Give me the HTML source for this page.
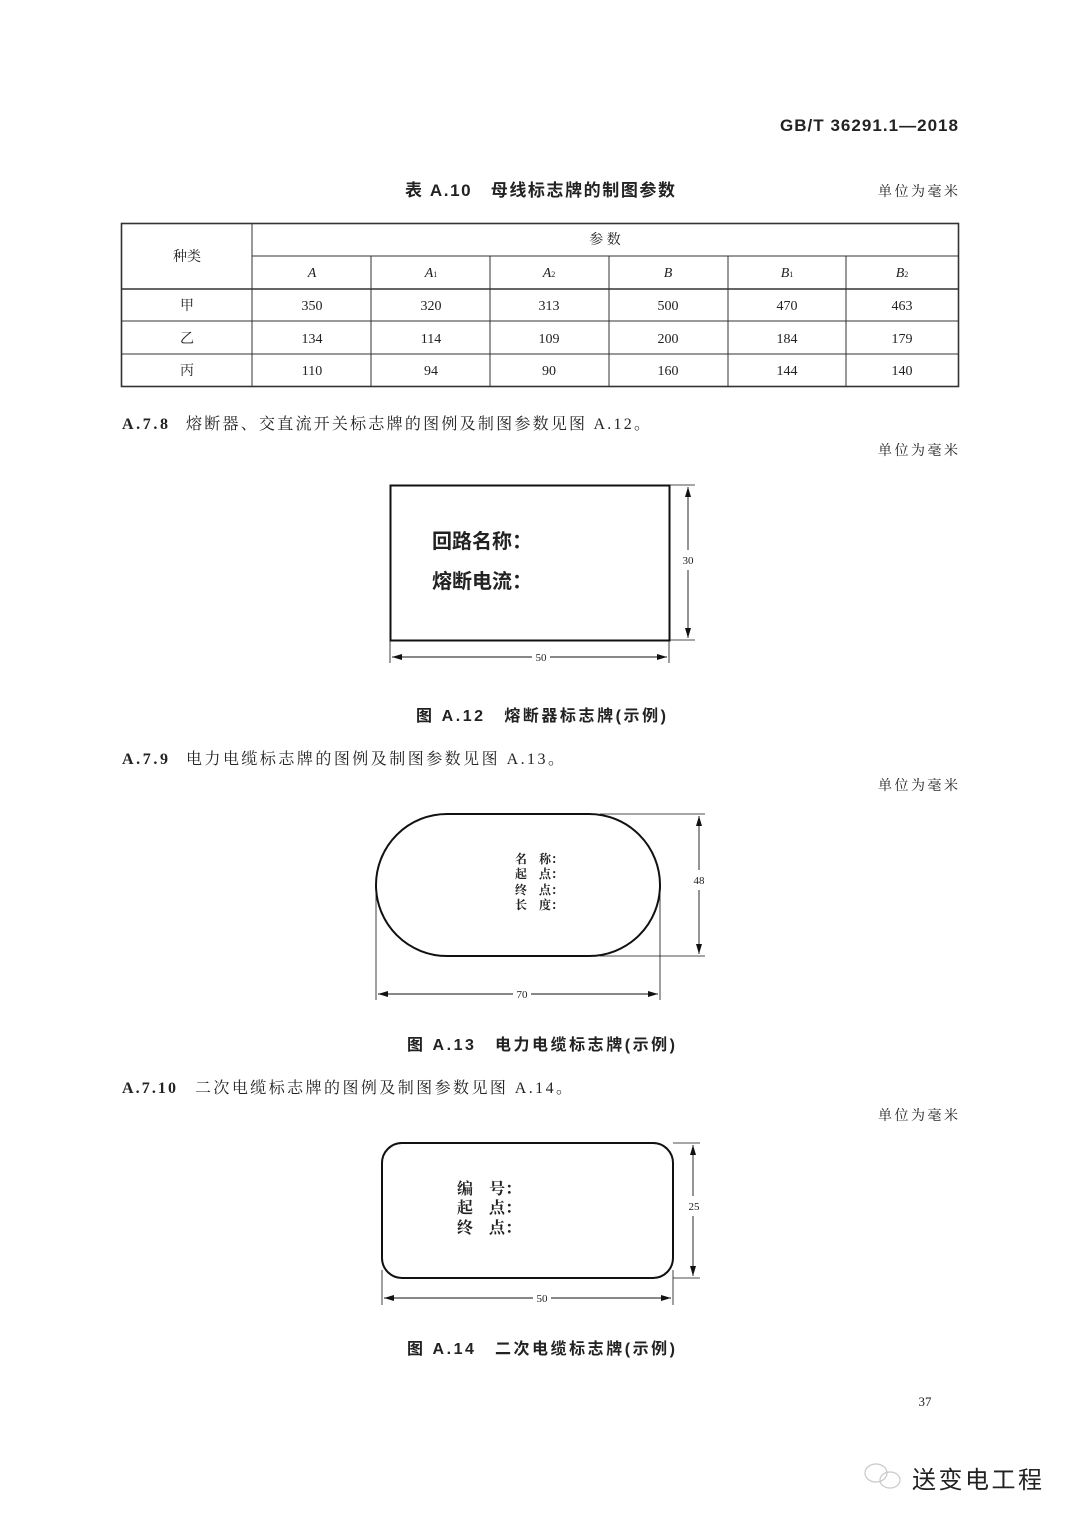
<!DOCTYPE html>
<html><head><meta charset="utf-8"><style>
html,body{margin:0;padding:0;background:#fff;}
svg{display:block;}
text{font-family:"Liberation Serif","Noto Serif CJK SC",serif;fill:#222;}
.s{font-family:"Liberation Sans","Noto Sans CJK SC",sans-serif;}
.b{font-weight:bold;}
</style></head><body>
<svg width="1080" height="1526" viewBox="0 0 1080 1526" xmlns="http://www.w3.org/2000/svg">
<defs>
<marker id="ar" markerWidth="10" markerHeight="6" refX="10" refY="3" orient="auto-start-reverse" markerUnits="userSpaceOnUse"><path d="M0,0 L10,3 L0,6 z" fill="#111"/></marker>
</defs>
<text x="958" y="131" font-size="17" text-anchor="end" class="s b" textLength="178" lengthAdjust="spacing">GB/T 36291.1—2018</text>

<text x="405" y="196" font-size="17" class="s b" textLength="270" lengthAdjust="spacing">表 A.10　母线标志牌的制图参数</text>
<text x="958" y="196" font-size="14" text-anchor="end" textLength="80" lengthAdjust="spacing">单位为毫米</text>

<g stroke="#333" fill="none">
<rect x="121.5" y="223.5" width="837" height="163" stroke-width="1.6"/>
<line x1="252" y1="223" x2="252" y2="387"/>
<line x1="252" y1="256" x2="959" y2="256"/>
<line x1="121" y1="289" x2="959" y2="289" stroke-width="1.4"/>
<line x1="121" y1="321" x2="959" y2="321"/>
<line x1="121" y1="354" x2="959" y2="354"/>
<line x1="371" y1="256" x2="371" y2="387"/>
<line x1="490" y1="256" x2="490" y2="387"/>
<line x1="609" y1="256" x2="609" y2="387"/>
<line x1="728" y1="256" x2="728" y2="387"/>
<line x1="846" y1="256" x2="846" y2="387"/>
</g>
<g font-size="14" text-anchor="middle" fill="#444">
<text x="187" y="261">种类</text>
<text x="605" y="244">参 数</text>
<text x="312" y="277" font-style="italic">A</text>
<text x="431" y="277" font-style="italic">A<tspan font-size="8" font-style="normal">1</tspan></text>
<text x="549" y="277" font-style="italic">A<tspan font-size="8" font-style="normal">2</tspan></text>
<text x="668" y="277" font-style="italic">B</text>
<text x="787" y="277" font-style="italic">B<tspan font-size="8" font-style="normal">1</tspan></text>
<text x="902" y="277" font-style="italic">B<tspan font-size="8" font-style="normal">2</tspan></text>
<text x="187" y="310">甲</text><text x="312" y="310">350</text><text x="431" y="310">320</text><text x="549" y="310">313</text><text x="668" y="310">500</text><text x="787" y="310">470</text><text x="902" y="310">463</text>
<text x="187" y="343">乙</text><text x="312" y="343">134</text><text x="431" y="343">114</text><text x="549" y="343">109</text><text x="668" y="343">200</text><text x="787" y="343">184</text><text x="902" y="343">179</text>
<text x="187" y="375">丙</text><text x="312" y="375">110</text><text x="431" y="375">94</text><text x="549" y="375">90</text><text x="668" y="375">160</text><text x="787" y="375">144</text><text x="902" y="375">140</text>
</g>

<text x="122" y="429" font-size="16" class="b" textLength="46" lengthAdjust="spacing">A.7.8</text>
<text x="186" y="429" font-size="16" textLength="464" lengthAdjust="spacing">熔断器、交直流开关标志牌的图例及制图参数见图 A.12。</text>
<text x="958" y="455" font-size="14" text-anchor="end" textLength="80" lengthAdjust="spacing">单位为毫米</text>

<!-- Fig A.12 -->
<g stroke="#111" fill="none">
<rect x="390.5" y="485.5" width="279" height="155" stroke-width="2"/>
<line x1="669" y1="485" x2="695" y2="485" stroke-width="0.8"/>
<line x1="669" y1="640" x2="695" y2="640" stroke-width="0.8"/>
<line x1="688" y1="487" x2="688" y2="550" marker-start="url(#ar)" stroke-width="0.9"/>
<line x1="688" y1="570" x2="688" y2="638" marker-end="url(#ar)" stroke-width="0.9"/>
<line x1="390" y1="640" x2="390" y2="663" stroke-width="0.8"/>
<line x1="669" y1="640" x2="669" y2="663" stroke-width="0.8"/>
<line x1="392" y1="657" x2="532" y2="657" marker-start="url(#ar)" stroke-width="0.9"/>
<line x1="550" y1="657" x2="667" y2="657" marker-end="url(#ar)" stroke-width="0.9"/>
</g>
<text x="688" y="564" font-size="11" text-anchor="middle">30</text>
<text x="541" y="661" font-size="11" text-anchor="middle">50</text>
<text x="432" y="548" font-size="20" class="s b" fill="#111">回路名称：</text>
<text x="432" y="588" font-size="20" class="s b" fill="#111">熔断电流：</text>
<text x="416" y="721" font-size="16" class="s b" textLength="250" lengthAdjust="spacing">图 A.12　熔断器标志牌(示例)</text>

<text x="122" y="764" font-size="16" class="b" textLength="46" lengthAdjust="spacing">A.7.9</text>
<text x="186" y="764" font-size="16" textLength="378" lengthAdjust="spacing">电力电缆标志牌的图例及制图参数见图 A.13。</text>
<text x="958" y="790" font-size="14" text-anchor="end" textLength="80" lengthAdjust="spacing">单位为毫米</text>

<!-- Fig A.13 -->
<g stroke="#111" fill="none">
<rect x="376" y="814" width="284" height="142" rx="71" ry="71" stroke-width="2"/>
<line x1="600" y1="814" x2="705" y2="814" stroke-width="0.8"/>
<line x1="600" y1="956" x2="705" y2="956" stroke-width="0.8"/>
<line x1="699" y1="816" x2="699" y2="870" marker-start="url(#ar)" stroke-width="0.9"/>
<line x1="699" y1="890" x2="699" y2="954" marker-end="url(#ar)" stroke-width="0.9"/>
<line x1="376" y1="885" x2="376" y2="1000" stroke-width="0.8"/>
<line x1="660" y1="885" x2="660" y2="1000" stroke-width="0.8"/>
<line x1="378" y1="994" x2="513" y2="994" marker-start="url(#ar)" stroke-width="0.9"/>
<line x1="531" y1="994" x2="658" y2="994" marker-end="url(#ar)" stroke-width="0.9"/>
</g>
<text x="699" y="884" font-size="11" text-anchor="middle">48</text>
<text x="522" y="998" font-size="11" text-anchor="middle">70</text>
<g font-size="12" class="s b" fill="#111">
<text x="515" y="863">名　称：</text>
<text x="515" y="878">起　点：</text>
<text x="515" y="894">终　点：</text>
<text x="515" y="909">长　度：</text>
</g>
<text x="407" y="1050" font-size="16" class="s b" textLength="268" lengthAdjust="spacing">图 A.13　电力电缆标志牌(示例)</text>

<text x="122" y="1093" font-size="16" class="b" textLength="54" lengthAdjust="spacing">A.7.10</text>
<text x="195" y="1093" font-size="16" textLength="377" lengthAdjust="spacing">二次电缆标志牌的图例及制图参数见图 A.14。</text>
<text x="958" y="1120" font-size="14" text-anchor="end" textLength="80" lengthAdjust="spacing">单位为毫米</text>

<!-- Fig A.14 -->
<g stroke="#111" fill="none">
<rect x="382" y="1143" width="291" height="135" rx="20" ry="20" stroke-width="2"/>
<line x1="673" y1="1143" x2="700" y2="1143" stroke-width="0.8"/>
<line x1="673" y1="1278" x2="700" y2="1278" stroke-width="0.8"/>
<line x1="693" y1="1145" x2="693" y2="1196" marker-start="url(#ar)" stroke-width="0.9"/>
<line x1="693" y1="1216" x2="693" y2="1276" marker-end="url(#ar)" stroke-width="0.9"/>
<line x1="382" y1="1270" x2="382" y2="1305" stroke-width="0.8"/>
<line x1="673" y1="1270" x2="673" y2="1305" stroke-width="0.8"/>
<line x1="384" y1="1298" x2="533" y2="1298" marker-start="url(#ar)" stroke-width="0.9"/>
<line x1="551" y1="1298" x2="671" y2="1298" marker-end="url(#ar)" stroke-width="0.9"/>
</g>
<text x="694" y="1210" font-size="11" text-anchor="middle">25</text>
<text x="542" y="1302" font-size="11" text-anchor="middle">50</text>
<g font-size="16" class="s b" fill="#111">
<text x="457" y="1194">编　号：</text>
<text x="457" y="1213">起　点：</text>
<text x="457" y="1233">终　点：</text>
</g>
<text x="407" y="1354" font-size="16" class="s b" textLength="268" lengthAdjust="spacing">图 A.14　二次电缆标志牌(示例)</text>

<text x="925" y="1406" font-size="13" text-anchor="middle">37</text>

<g stroke="#c8c8c8" fill="none" stroke-width="1.2">
<ellipse cx="876" cy="1473" rx="11" ry="9"/>
<ellipse cx="890" cy="1480" rx="10" ry="8"/>
</g>
<text x="912" y="1488" font-size="24" class="s" fill="#c8c8c8" textLength="130" lengthAdjust="spacing">送变电工程</text>
</svg>
</body></html>
